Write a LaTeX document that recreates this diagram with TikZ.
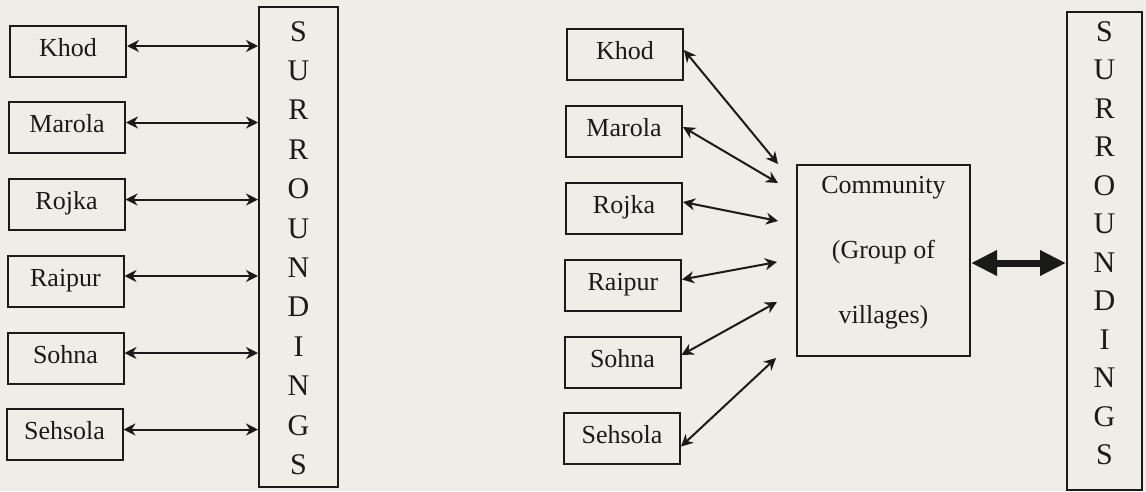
\documentclass[tikz,border=0pt]{standalone}
\usepackage{fontspec}
\setmainfont{Liberation Serif}
\usetikzlibrary{arrows.meta}
\definecolor{paper}{HTML}{EEEDE7}
\definecolor{ink}{HTML}{1A1A18}
\begin{document}
\begin{tikzpicture}[x=1pt,y=-1pt,
  village/.style={draw=ink,line width=2pt,minimum width=116pt,minimum height=51pt,
    inner sep=0pt,text height=12pt,text depth=2pt,font=\fontsize{26}{30}\selectfont,text=ink},
  tallbox/.style={draw=ink,line width=2pt,inner sep=0pt},
  letters/.style={align=center,text=ink},
  link/.style={draw=ink,line width=2pt,{Stealth[length=12pt,width=12pt]}-{Stealth[length=12pt,width=12pt]}},
  biglink/.style={draw=ink,line width=7pt,{Triangle[length=26pt,width=24pt]}-{Triangle[length=26pt,width=24pt]}}]
\useasboundingbox[fill=paper] (0,0) rectangle (1146,491);

% left: villages linked one by one to the surroundings
\node[tallbox,minimum width=79pt,minimum height=480pt] (lsur) at (298.5,247) {};
\node[letters,font=\fontsize{30}{39.4}\selectfont] (ltext) at (298.5,248)
  {S\\U\\R\\R\\O\\U\\N\\D\\I\\N\\G\\S};
\node[village] (lkh) at (68,51) {Khod};
\node[village] (lma) at (67,127.5) {Marola};
\node[village] (lro) at (66.5,204.5) {Rojka};
\node[village] (lra) at (65.5,281) {Raipur};
\node[village] (lso) at (65.5,358) {Sohna};
\node[village] (lse) at (64.5,434.5) {Sehsola};
\foreach \v in {lkh,lma,lro,lra,lso,lse}
  \draw[link] ([yshift=5pt]\v.east) -- ([yshift=5pt]\v.east -| lsur.west);

% right: villages grouped as a community
\node[tallbox,minimum width=75pt,minimum height=478pt] (rsur) at (1104.5,251) {};
\node[letters,font=\fontsize{30}{38.5}\selectfont] (rtext) at (1104.5,243)
  {S\\U\\R\\R\\O\\U\\N\\D\\I\\N\\G\\S};
\node[village] (rkh) at (625,54.5) {Khod};
\node[village] (rma) at (624,131.5) {Marola};
\node[village] (rro) at (624,208) {Rojka};
\node[village] (rra) at (623,285.5) {Raipur};
\node[village] (rso) at (622.5,362) {Sohna};
\node[village] (rse) at (622,438.5) {Sehsola};
\node[tallbox,minimum width=173pt,minimum height=191pt] (comm) at (883.5,260.5) {};
\node[letters,font=\fontsize{26}{65}\selectfont] (ctext) at (883.5,253)
  {Community\\(Group of\\villages)};

\coordinate (ekh) at (778,164);
\coordinate (ema) at (778,183);
\coordinate (ero) at (778,221);
\coordinate (era) at (777,262);
\coordinate (eso) at (777,302);
\coordinate (ese) at (776,358);
\draw[link] ([yshift=4.5pt]rkh.east) -- (ekh);
\draw[link] ([yshift=4.5pt]rma.east) -- (ema);
\draw[link] ([yshift=6pt]rro.east) -- (ero);
\draw[link] ([yshift=6pt]rra.east) -- (era);
\draw[link] ([yshift=7pt]rso.east) -- (eso);
\draw[link] ([yshift=-8pt]rse.east) -- (ese);

\coordinate (mid) at ([yshift=-2.5pt]comm.east);
\draw[biglink] (mid) -- (mid -| rsur.west);
\end{tikzpicture}
\end{document}
